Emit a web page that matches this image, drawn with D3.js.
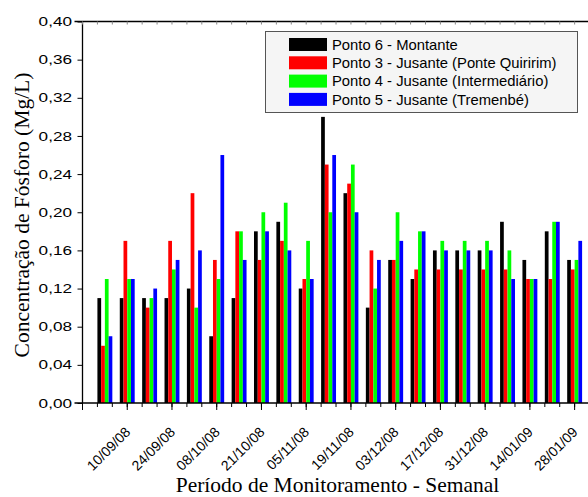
<!DOCTYPE html>
<html>
<head>
<meta charset="utf-8">
<script src="https://cdn.jsdelivr.net/npm/d3@7"></script>
<style>
  html, body { margin: 0; padding: 0; background: #fff; }
  svg { display: block; }
</style>
</head>
<body>
<svg id="chart" width="588" height="497"></svg>
<script>
// ---- data ----
const dates = ["03/09/08","10/09/08","17/09/08","24/09/08","01/10/08","08/10/08","15/10/08","21/10/08",
  "29/10/08","05/11/08","12/11/08","19/11/08","26/11/08","03/12/08","10/12/08","17/12/08",
  "24/12/08","31/12/08","07/01/09","14/01/09","21/01/09","28/01/09"];
const tickLabels = ["10/09/08","24/09/08","08/10/08","21/10/08","05/11/08","19/11/08",
  "03/12/08","17/12/08","31/12/08","14/01/09","28/01/09"];
const seriesNames = ["Ponto 6 - Montante","Ponto 3 - Jusante (Ponte Quiririm)",
  "Ponto 4 - Jusante (Intermediário)","Ponto 5 - Jusante (Tremenbé)"];
const ponto6 = [0.11,0.11,0.11,0.11,0.12,0.07,0.11,0.18,0.19,0.12,0.30,0.22,0.10,0.15,0.13,0.16,0.16,0.16,0.19,0.15,0.18,0.15];
const ponto3 = [0.06,0.17,0.10,0.17,0.22,0.15,0.18,0.15,0.17,0.13,0.25,0.23,0.16,0.15,0.14,0.14,0.14,0.14,0.14,0.13,0.13,0.14];
const ponto4 = [0.13,0.13,0.11,0.14,0.10,0.13,0.18,0.20,0.21,0.17,0.20,0.25,0.12,0.20,0.18,0.17,0.17,0.17,0.16,0.13,0.19,0.15];
const ponto5 = [0.07,0.13,0.12,0.15,0.16,0.26,0.15,0.18,0.16,0.13,0.26,0.20,0.15,0.17,0.18,0.16,0.16,0.16,0.13,0.13,0.19,0.17];
const yTicks = [0,0.04,0.08,0.12,0.16,0.20,0.24,0.28,0.32,0.36,0.40];
const colors = ["#000000","#ff0000","#00ff00","#0000ff"];

const series = [ponto6, ponto3, ponto4, ponto5];

// ---- layout ----
const svg = d3.select("#chart");
const mLeft = 82.5, mTop = 21.5, mBottom = 403;
const sans = "'Liberation Sans', Arial, sans-serif";
const serif = "'Liberation Serif', 'Times New Roman', serif";
const x = d3.scaleLinear().domain([-1, 22]).range([mLeft, mLeft + 23 * 22.37]);
const y = d3.scaleLinear().domain([0, 0.40]).range([mBottom, mTop]);
const groupW = 2/3, barW = groupW / 4;

// bars
series.forEach((vals, s) => {
  svg.append("g").selectAll("rect").data(vals).join("rect")
    .attr("x", (d, i) => x(i - groupW/2 + s * barW))
    .attr("width", x(barW) - x(0))
    .attr("y", d => y(d))
    .attr("height", d => y(0) - y(d))
    .attr("fill", colors[s]);
});

// y axis
const yAxis = d3.axisLeft(y).tickValues(yTicks).tickSize(5).tickFormat("");
const gy = svg.append("g").attr("transform", `translate(${mLeft},0)`).call(yAxis);
gy.select(".domain").attr("d", `M0,${mTop}V${mBottom}`).attr("stroke-width", 1.3);
svg.append("g").selectAll("text").data(yTicks).join("text")
  .attr("transform", d => `translate(72,${y(d)}) scale(1.32,1)`)
  .attr("text-anchor", "end").attr("dy", "0.35em")
  .attr("font-family", sans).attr("font-size", 13)
  .text(d => d3.format(".2f")(d).replace(".", ","));

// x axis ticks
const minorVals = d3.range(-1, 22.01, 2/3);
const majorVals = d3.range(-1, 22, 2);
const gx = svg.append("g").attr("transform", `translate(0,${mBottom})`);
gx.append("line").attr("x1", mLeft - 8).attr("x2", 588).attr("y1", 0).attr("y2", 0).attr("stroke", "#000").attr("stroke-width", 1.3);
gx.selectAll("line.minor").data(minorVals).join("line").attr("class", "minor")
  .attr("x1", d => x(d)).attr("x2", d => x(d)).attr("y1", 0).attr("y2", 4).attr("stroke", "#000");
gx.selectAll("line.major").data(majorVals).join("line").attr("class", "major")
  .attr("x1", d => x(d)).attr("x2", d => x(d)).attr("y1", 0).attr("y2", 7).attr("stroke", "#000");
gx.selectAll("text").data(tickLabels).join("text")
  .attr("transform", (d, i) => `translate(${x(1 + 2 * i) - 3},${23}) rotate(-45)`)
  .attr("text-anchor", "end")
  .attr("dy", "0.7em")
  .attr("font-family", sans).attr("font-size", 14)
  .text(d => d);

// top axis
const gt = svg.append("g").attr("transform", `translate(0,${mTop})`);
gt.append("line").attr("x1", mLeft - 8).attr("x2", 588).attr("y1", 0).attr("y2", 0).attr("stroke", "#000").attr("stroke-width", 1.3);
gt.selectAll("line.t").data(minorVals).join("line").attr("class", "t")
  .attr("x1", d => x(d)).attr("x2", d => x(d)).attr("y1", 0).attr("y2", 3).attr("stroke", "#888");

// axis titles
svg.append("text")
  .attr("transform", `translate(29,215) rotate(-90)`)
  .attr("text-anchor", "middle")
  .attr("font-family", serif).attr("font-size", 21.5)
  .text("Concentração de Fósforo (Mg/L)");
svg.append("text")
  .attr("x", 337.5).attr("y", 492)
  .attr("text-anchor", "middle")
  .attr("font-family", serif).attr("font-size", 21.5)
  .text("Período de Monitoramento - Semanal");

// legend
const lg = svg.append("g");
lg.append("rect").attr("x", 265.5).attr("y", 31.5).attr("width", 312).attr("height", 81)
  .attr("fill", "#f5f5f5").attr("stroke", "#555").attr("stroke-width", 1);
seriesNames.forEach((name, i) => {
  const cy = 44.5 + i * 18.3;
  lg.append("rect").attr("x", 289).attr("y", cy - 6.5).attr("width", 38).attr("height", 13).attr("fill", colors[i]);
  lg.append("text").attr("x", 332).attr("y", cy).attr("dy", "0.36em")
    .attr("font-family", sans).attr("font-size", 14.8)
    .text(name);
});
</script>
</body>
</html>
